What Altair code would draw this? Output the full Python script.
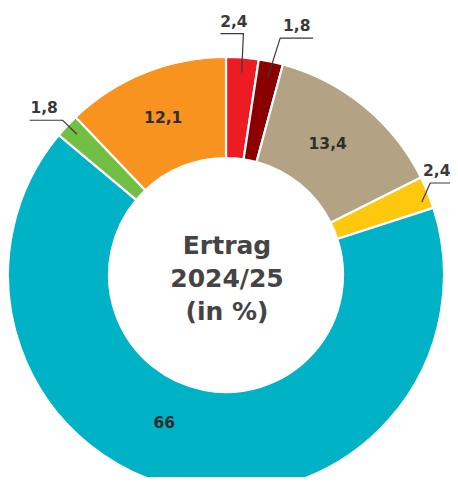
import math
import altair as alt
import pandas as pd

# ---- data ----
keys = ["rot", "dunkelrot", "beige", "gelb", "tuerkis", "gruen", "orange"]
values = [2.4, 1.8, 13.4, 2.4, 66, 1.8, 12.1]
labels = ["2,4", "1,8", "13,4", "2,4", "66", "1,8", "12,1"]
colors = ["#ED1C24", "#8A0000", "#B3A283", "#FFC80E", "#00B2C6", "#72BF44", "#F7931E"]
center_lines = ["Ertrag", "2024/25", "(in %)"]

# ---- layout (style, not data) ----
W, H = 442, 469
CX, CY = 218, 267
R_IN, R_OUT = 117, 218
FONT = "DejaVu Sans"
# inside labels: radius, angle shift (deg)
inside = {2: (166, -1.5), 4: (160, 11.7), 6: (169, 0.0)}
# leader lines: start shift, start r, elbow shift, elbow r, direction, length, label dx
outside = {
    0: (0.1, 203, -0.2, 242, -1, 23, 2),
    1: (0.0, 201, 1.0, 243, 1, 33, 0),
    3: (1.8, 209, -2.0, 224, 1, 30, -8.5),
    5: (0.2, 205, 0.3, 225, -1, 33, -2),
}

total = sum(values)
rows, line_rows, lab_in, lab_out = [], [], [], []
cum = 0.0


def pt(r, a):
    return CX + r * math.sin(a), CY - r * math.cos(a)


for i, (k, v, lab) in enumerate(zip(keys, values, labels)):
    mid = (cum + v / 2) / total * 2 * math.pi
    cum += v
    rows.append({"key": k, "value": v, "idx": i})
    if i in inside:
        r, shift = inside[i]
        x, y = pt(r, mid + math.radians(shift))
        lab_in.append({"label": lab, "px": x, "py": y})
    if i in outside:
        s1, r1, s2, r2, d, ln, ldx = outside[i]
        x1, y1 = pt(r1, mid + math.radians(s1))
        x2, y2 = pt(r2, mid + math.radians(s2))
        x3 = x2 + d * ln
        for j, (xx, yy) in enumerate([(x1, y1), (x2, y2), (x3, y2)]):
            line_rows.append({"key": k, "pt": j, "px": xx, "py": yy})
        lab_out.append({"label": lab, "px": (x2 + x3) / 2 + ldx, "py": y2 - 7})

df = pd.DataFrame(rows)
color_scale = alt.Scale(domain=keys, range=colors)

arcs = alt.Chart(df).mark_arc(
    innerRadius=R_IN, outerRadius=R_OUT, stroke="white", strokeWidth=2.2
).encode(
    theta=alt.Theta("value:Q", stack=True),
    color=alt.Color("key:N", scale=color_scale, legend=None),
    order=alt.Order("idx:Q"),
    x=alt.value(CX),
    y=alt.value(CY),
)

px = alt.X("px:Q", scale=None, axis=None)
py = alt.Y("py:Q", scale=None, axis=None)

leaders = alt.Chart(pd.DataFrame(line_rows)).mark_line(
    color="#3a3a3a", strokeWidth=1.2
).encode(x=px, y=py, detail="key:N", order="pt:Q")

out_text = alt.Chart(pd.DataFrame(lab_out)).mark_text(
    font=FONT, fontWeight="bold", fontSize=15.5, color="#3a3a3a",
    align="center", baseline="alphabetic"
).encode(x=px, y=py, text="label:N")

in_text = alt.Chart(pd.DataFrame(lab_in)).mark_text(
    font=FONT, fontWeight="bold", fontSize=15.5, color="#2e2e2e",
    align="center", baseline="middle"
).encode(x=px, y=py, text="label:N")

center_df = pd.DataFrame({"t": center_lines, "line": [0, 1, 2]})
center_text = alt.Chart(center_df).mark_text(
    font=FONT, fontWeight="bold", fontSize=25, color="#444444",
    align="center", baseline="alphabetic"
).encode(
    x=alt.value(CX + 1),
    y=alt.Y("line:Q", scale=alt.Scale(domain=[0, 2], range=[CY - 21.5, CY + 45]), axis=None),
    text="t:N",
)

chart = alt.layer(arcs, leaders, out_text, in_text, center_text).properties(
    width=W, height=H, padding=0, autosize=alt.AutoSizeParams(type="none")
).configure_view(stroke=None)

chart.save("out.html", embed_options={"renderer": "svg", "actions": False})
